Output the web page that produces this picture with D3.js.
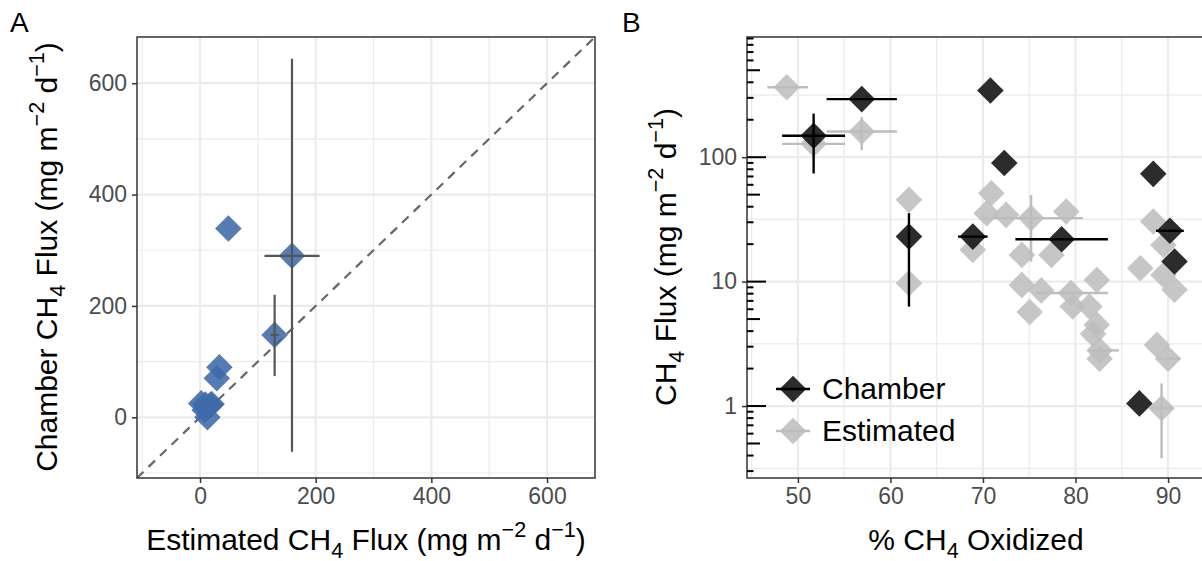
<!DOCTYPE html>
<html>
<head>
<meta charset="utf-8">
<script src="https://cdn.jsdelivr.net/npm/d3@7"></script>
<style>
  body { margin: 0; background: #fff; }
  svg { display: block; font-family: "Liberation Sans", Arial, Helvetica, sans-serif; }
</style>
</head>
<body>
<div id="chart"></div>
<script>
// ---- panel A: estimated vs chamber flux (mg m-2 d-1)
var estA  = [49, 159, 129, 33.5, 29, 2, 9, 18, 20, 8, 12.8];
var chamA = [339, 290, 148, 90, 70, 25, 23, 22, 24, 13, 0];
// error bars (null = none)
var estLoA  = [null, 111.5, 122, null, null, null, null, null, null, null, null];
var estHiA  = [null, 206.7, 136, null, null, null, null, null, null, null, null];
var chamLoA = [null, -62, 74, null, null, null, null, null, null, null, null];
var chamHiA = [null, 644, 220, null, null, null, null, null, null, null, null];
var ticksA = [0, 200, 400, 600];

// ---- panel B: % CH4 oxidized vs flux, chamber (black)
var pctCh  = [51.7, 56.9, 62, 68.9, 70.8, 72.3, 78.5, 88.4, 90.2, 90.7, 86.9];
var fluxCh = [148.6, 293, 23, 23, 344, 89.7, 21.9, 73.5, 25.6, 14.5, 1.05];
var pctLoCh  = [48.3, 53.1, null, 67.3, null, null, 73.5, null, 88.7, null, null];
var pctHiCh  = [55.1, 60.7, null, 70.5, null, null, 83.5, null, 91.7, null, null];
var fluxLoCh = [74, null, 6.3, null, null, null, null, null, null, null, null];
var fluxHiCh = [224, null, 35.5, null, null, null, null, null, null, null, null];

// ---- panel B: estimated (grey)
var pctEst  = [48.8, 51.7, 56.9, 62, 62, 68.9, 70.9, 70.4, 72.5, 75.2, 79, 74.2, 77.4, 74.2, 76.3, 79.5,
               82.3, 75.05, 79.7, 81.5, 82.3, 81.9, 82.6, 82.6, 88.4, 89.5, 87, 89.5, 90.7, 88.8, 90, 89.3];
var fluxEst = [365, 128, 161, 45.4, 9.7, 18, 51.4, 35.5, 34.4, 32.4, 36.6, 16.4, 16.4, 9.4, 8.5, 8.1,
               10.3, 5.7, 6.3, 6.3, 4.5, 3.8, 2.8, 2.4, 30.4, 19.7, 12.8, 11.3, 8.6, 3.1, 2.4, 0.96];
var pctLoEst = {0: 46.7, 1: 48.3, 2: 53.1, 9: 70, 15: 75.7, 22: 81.4, 30: 88.8, 31: 88.2};
var pctHiEst = {0: 51.1, 1: 55.1, 2: 60.7, 9: 80.8, 15: 83.5, 22: 84.7, 30: 91.3, 31: 90.5};
var fluxLoEst = {2: 114, 9: 14.5, 31: 0.38};
var fluxHiEst = {2: 211, 9: 49.7, 31: 1.52};
var ticksBx = [50, 60, 70, 80, 90];
var ticksBy = [1, 10, 100];
var legendLabels = ["Chamber", "Estimated"];

var W = 1202, H = 561;
var svg = d3.select("#chart").append("svg").attr("width", W).attr("height", H);

var gridCol = "#ebebeb", tickTxt = "#4d4d4d", border = "#333333";
var titleSize = 30, tickSize = 23;
var diamond = d3.symbol().type(d3.symbolDiamond2).size(450);

// helper: text with sub / superscripts. parts: [text, shift] shift -1 sub, 1 super
function richText(sel, parts, size) {
  var cur = 0;
  parts.forEach(function (p) {
    var target = p[1] === 1 ? -size * 0.42 : p[1] === -1 ? size * 0.25 : 0;
    sel.append("tspan")
      .attr("dy", target - cur)
      .attr("font-size", p[1] === 0 ? size : size * 0.72)
      .text(p[0]);
    cur = target;
  });
}
var unitParts = [[" (mg m", 0], ["\u22122", 1], [" d", 0], ["\u22121", 1], [")", 0]];

// ================= PANEL A =================
var xA = d3.scaleLinear().domain([-109, 683]).range([137, 595]);
var yA = d3.scaleLinear().domain([-109, 683]).range([478, 37]);

var gA = svg.append("g");
svg.append("clipPath").attr("id", "clipA").append("rect")
  .attr("x", 137).attr("y", 37).attr("width", 458).attr("height", 441);

// grid
[-100, 100, 300, 500].forEach(function (v) {
  gA.append("line").attr("x1", xA(v)).attr("x2", xA(v)).attr("y1", 37).attr("y2", 478)
    .attr("stroke", gridCol).attr("stroke-width", 1.2).attr("clip-path", "url(#clipA)");
  gA.append("line").attr("y1", yA(v)).attr("y2", yA(v)).attr("x1", 137).attr("x2", 595)
    .attr("stroke", gridCol).attr("stroke-width", 1.2).attr("clip-path", "url(#clipA)");
});
ticksA.forEach(function (v) {
  gA.append("line").attr("x1", xA(v)).attr("x2", xA(v)).attr("y1", 37).attr("y2", 478)
    .attr("stroke", gridCol).attr("stroke-width", 2.2);
  gA.append("line").attr("y1", yA(v)).attr("y2", yA(v)).attr("x1", 137).attr("x2", 595)
    .attr("stroke", gridCol).attr("stroke-width", 2.2);
});

// 1:1 line
gA.append("line").attr("clip-path", "url(#clipA)")
  .attr("x1", xA(-109)).attr("y1", yA(-109)).attr("x2", xA(683)).attr("y2", yA(683))
  .attr("stroke", "#666").attr("stroke-width", 2.2).attr("stroke-dasharray", "9,7");

var ptsA = estA.map(function (d, i) {
  return { x: d, y: chamA[i], xl: estLoA[i], xh: estHiA[i], yl: chamLoA[i], yh: chamHiA[i] };
});

gA.append("g").selectAll("path").data(ptsA).join("path")
  .attr("d", diamond)
  .attr("transform", function (d) { return "translate(" + xA(d.x) + "," + yA(d.y) + ")"; })
  .attr("fill", "#3f6aa8").attr("fill-opacity", 0.88);

var ebA = gA.append("g").attr("stroke", "#555").attr("stroke-width", 2.2);
ptsA.forEach(function (d) {
  if (d.xl != null) ebA.append("line").attr("x1", xA(d.xl)).attr("x2", xA(d.xh)).attr("y1", yA(d.y)).attr("y2", yA(d.y));
  if (d.yl != null) ebA.append("line").attr("y1", yA(d.yl)).attr("y2", yA(d.yh)).attr("x1", xA(d.x)).attr("x2", xA(d.x));
});

gA.append("rect").attr("x", 137).attr("y", 37).attr("width", 458).attr("height", 441)
  .attr("fill", "none").attr("stroke", border).attr("stroke-width", 1.5);

// axes A
var axAx = gA.append("g").attr("transform", "translate(0,478)")
  .call(d3.axisBottom(xA).tickValues(ticksA).tickSize(5).tickPadding(5));
var axAy = gA.append("g").attr("transform", "translate(137,0)")
  .call(d3.axisLeft(yA).tickValues(ticksA).tickSize(5).tickPadding(5));
[axAx, axAy].forEach(function (a) {
  a.select(".domain").remove();
  a.selectAll("line").attr("stroke", border).attr("stroke-width", 1.5);
  a.selectAll("text").attr("fill", tickTxt).attr("font-size", tickSize)
    .attr("font-family", "Liberation Sans, Arial, sans-serif");
});

richText(svg.append("text").attr("x", 366).attr("y", 550).attr("text-anchor", "middle").attr("fill", "#000"),
  [["Estimated CH", 0], ["4", -1], [" Flux", 0]].concat(unitParts), titleSize);
richText(svg.append("text").attr("transform", "translate(57,257) rotate(-90)").attr("text-anchor", "middle").attr("fill", "#000"),
  [["Chamber CH", 0], ["4", -1], [" Flux", 0]].concat(unitParts), titleSize);
svg.append("text").attr("x", 10).attr("y", 32).attr("font-size", 28).text("A");

// ================= PANEL B =================
var xB = d3.scaleLinear().domain([44.5, 94.1]).range([747, 1206]);
var yB = d3.scaleLog().domain([0.264, 925]).range([478, 37]);
var gB = svg.append("g");
svg.append("clipPath").attr("id", "clipB").append("rect")
  .attr("x", 747).attr("y", 37).attr("width", 459).attr("height", 441);

[45, 55, 65, 75, 85, 95].forEach(function (v) {
  gB.append("line").attr("x1", xB(v)).attr("x2", xB(v)).attr("y1", 37).attr("y2", 478)
    .attr("stroke", gridCol).attr("stroke-width", 1.2).attr("clip-path", "url(#clipB)");
});
[0.316, 3.16, 31.6, 316].forEach(function (v) {
  gB.append("line").attr("y1", yB(v)).attr("y2", yB(v)).attr("x1", 747).attr("x2", 1206)
    .attr("stroke", gridCol).attr("stroke-width", 1.2);
});
ticksBx.forEach(function (v) {
  gB.append("line").attr("x1", xB(v)).attr("x2", xB(v)).attr("y1", 37).attr("y2", 478)
    .attr("stroke", gridCol).attr("stroke-width", 2.2);
});
ticksBy.forEach(function (v) {
  gB.append("line").attr("y1", yB(v)).attr("y2", yB(v)).attr("x1", 747).attr("x2", 1206)
    .attr("stroke", gridCol).attr("stroke-width", 2.2);
});

var ptsEst = pctEst.map(function (d, i) {
  return { x: d, y: fluxEst[i], xl: pctLoEst[i], xh: pctHiEst[i], yl: fluxLoEst[i], yh: fluxHiEst[i] };
});
var ptsCh = pctCh.map(function (d, i) {
  return { x: d, y: fluxCh[i], xl: pctLoCh[i], xh: pctHiCh[i], yl: fluxLoCh[i], yh: fluxHiCh[i] };
});

function drawSeries(pts, fill, opacity, errCol) {
  var g = gB.append("g").attr("clip-path", "url(#clipB)");
  g.selectAll("path").data(pts).join("path")
    .attr("d", diamond)
    .attr("transform", function (d) { return "translate(" + xB(d.x) + "," + yB(d.y) + ")"; })
    .attr("fill", fill).attr("fill-opacity", opacity);
  var eb = g.append("g").attr("stroke", errCol).attr("stroke-width", 2.4);
  pts.forEach(function (d) {
    if (d.xl != null) eb.append("line").attr("x1", xB(d.xl)).attr("x2", xB(d.xh)).attr("y1", yB(d.y)).attr("y2", yB(d.y));
    if (d.yl != null) eb.append("line").attr("y1", yB(d.yl)).attr("y2", yB(d.yh)).attr("x1", xB(d.x)).attr("x2", xB(d.x));
  });
}
drawSeries(ptsEst, "#bdbdbd", 0.87, "#bdbdbd");
drawSeries(ptsCh, "#1a1a1a", 0.92, "#000");

gB.append("rect").attr("x", 747).attr("y", 37).attr("width", 470).attr("height", 441)
  .attr("fill", "none").attr("stroke", border).attr("stroke-width", 1.5);

// log ticks inside the panel
var logTicks = [];
for (var e = -1; e <= 2; e++) {
  for (var k = 1; k <= 9; k++) {
    var v = k * Math.pow(10, e);
    if (v >= 0.264 && v <= 925) logTicks.push({ v: v, k: k });
  }
}
gB.append("g").selectAll("line").data(logTicks).join("line")
  .attr("x1", 747)
  .attr("x2", function (d) { return 747 + (d.k === 1 ? 19 : d.k === 5 ? 13 : 6.5); })
  .attr("y1", function (d) { return yB(d.v); }).attr("y2", function (d) { return yB(d.v); })
  .attr("stroke", "#000").attr("stroke-width", 2);

var axBx = gB.append("g").attr("transform", "translate(0,478)")
  .call(d3.axisBottom(xB).tickValues(ticksBx).tickSize(5).tickPadding(5));
var axBy = gB.append("g").attr("transform", "translate(747,0)")
  .call(d3.axisLeft(yB).tickValues(ticksBy).tickFormat(d3.format("d")).tickSize(5).tickPadding(5));
[axBx, axBy].forEach(function (a) {
  a.select(".domain").remove();
  a.selectAll("line").attr("stroke", border).attr("stroke-width", 1.5);
  a.selectAll("text").attr("fill", tickTxt).attr("font-size", tickSize)
    .attr("font-family", "Liberation Sans, Arial, sans-serif");
});

richText(svg.append("text").attr("x", 976).attr("y", 550).attr("text-anchor", "middle").attr("fill", "#000"),
  [["% CH", 0], ["4", -1], [" Oxidized", 0]], titleSize);
richText(svg.append("text").attr("transform", "translate(676,257) rotate(-90)").attr("text-anchor", "middle").attr("fill", "#000"),
  [["CH", 0], ["4", -1], [" Flux", 0]].concat(unitParts), titleSize);
svg.append("text").attr("x", 622).attr("y", 32).attr("font-size", 28).text("B");

// legend
var leg = svg.append("g");
var legFill = ["#1a1a1a", "#bdbdbd"], legErr = ["#000", "#bdbdbd"];
legendLabels.forEach(function (lab, i) {
  var cy = 389 + i * 42;
  leg.append("path").attr("d", diamond).attr("transform", "translate(793," + cy + ")")
    .attr("fill", legFill[i]).attr("fill-opacity", i === 0 ? 0.92 : 0.87);
  leg.append("line").attr("x1", 776).attr("x2", 810).attr("y1", cy).attr("y2", cy)
    .attr("stroke", legErr[i]).attr("stroke-width", 2.4);
  leg.append("text").attr("x", 822).attr("y", cy + 10).attr("font-size", titleSize).text(lab);
});
</script>
</body>
</html>
